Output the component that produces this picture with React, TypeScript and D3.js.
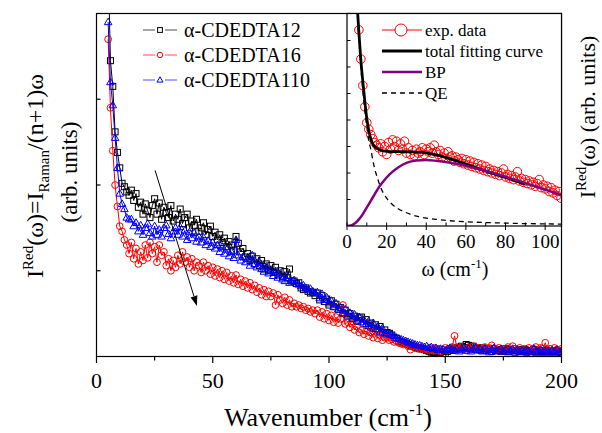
import React, { useRef, useEffect } from "react";
import * as d3 from "d3";

const W = 602;
const H = 433;

// ---- main panel data (wavenumber 5..200 cm-1, step 1) ----
const wavenumber = d3.range(5, 201, 1);

const cdedta12 = [
  4.6, 3.45, 3.15, 2.62, 2.38, 2.2, 2.02, 1.98, 1.92, 1.88,
  1.94, 1.82, 1.9, 1.74, 1.8, 1.66, 1.78, 1.7, 1.62, 1.76,
  1.84, 1.66, 1.79, 1.6, 1.74, 1.68, 1.62, 1.76, 1.58, 1.66,
  1.6, 1.72, 1.55, 1.62, 1.66, 1.5, 1.58, 1.53, 1.6, 1.46,
  1.5, 1.56, 1.42, 1.48, 1.52, 1.4, 1.45, 1.36, 1.42, 1.33,
  1.38, 1.28, 1.34, 1.3, 1.24, 1.4, 1.32, 1.22, 1.26, 1.16,
  1.2, 1.12, 1.17, 1.08, 1.14, 1.06, 1.12, 1.02, 1.08, 1.0,
  1.06, 0.98, 1.04, 0.95, 1.0, 0.93, 0.99, 0.92, 1.02, 0.88,
  0.88, 0.85, 0.86, 0.8, 0.78, 0.8, 0.76, 0.74, 0.75, 0.71,
  0.74, 0.66, 0.71, 0.64, 0.67, 0.6, 0.65, 0.58, 0.61, 0.55,
  0.57, 0.5, 0.54, 0.47, 0.5, 0.44, 0.47, 0.41, 0.45, 0.46,
  0.38, 0.43, 0.36, 0.39, 0.33, 0.37, 0.31, 0.35, 0.28, 0.31,
  0.28, 0.27, 0.25, 0.22, 0.21, 0.18, 0.17, 0.16, 0.15, 0.14,
  0.13, 0.12, 0.11, 0.1, 0.09, 0.09, 0.08, 0.07, 0.06, 0.05,
  0.05, 0.04, 0.04, 0.05, 0.03, 0.02, 0.06, 0.08, 0.07, 0.1,
  0.09, 0.11, 0.12, 0.1, 0.14, 0.13, 0.11, 0.12, 0.09, 0.1,
  0.08, 0.1, 0.07, 0.09, 0.08, 0.06, 0.09, 0.07, 0.08, 0.06,
  0.07, 0.09, 0.06, 0.08, 0.07, 0.05, 0.07, 0.06, 0.08, 0.06,
  0.05, 0.07, 0.06, 0.08, 0.05, 0.06, 0.07, 0.05, 0.06, 0.07,
  0.05, 0.06, 0.07, 0.05, 0.06, 0.05,
];

const cdedta16 = [
  3.7, 2.9, 2.4, 2.0, 1.75, 1.52, 1.46, 1.36, 1.3, 1.2,
  1.33, 1.14, 1.26, 1.08, 1.22, 1.12, 1.3, 1.15, 1.33, 1.2,
  1.28, 1.1, 1.3, 1.18, 1.22, 1.06, 1.14, 1.0, 1.12, 1.04,
  1.18, 1.08, 1.22, 1.1, 1.16, 1.04, 1.14, 1.0, 1.1, 1.06,
  0.98, 1.1, 1.0, 1.06, 0.96, 1.04, 0.94, 1.02, 0.92, 1.0,
  0.9, 0.98, 0.88, 0.94, 0.86, 0.95, 0.84, 0.9, 0.82, 0.88,
  0.8, 0.86, 0.78, 0.83, 0.75, 0.8, 0.72, 0.78, 0.7, 0.76,
  0.7, 0.74, 0.6, 0.72, 0.66, 0.62, 0.69, 0.6, 0.66, 0.58,
  0.62, 0.58, 0.6, 0.56, 0.58, 0.54, 0.56, 0.52, 0.54, 0.5,
  0.54, 0.46, 0.52, 0.44, 0.5, 0.42, 0.48, 0.4, 0.46, 0.39,
  0.44, 0.6, 0.38, 0.4, 0.34, 0.38, 0.31, 0.35, 0.28, 0.31,
  0.26, 0.3, 0.24, 0.28, 0.22, 0.3, 0.21, 0.25, 0.19, 0.22,
  0.22, 0.19, 0.2, 0.17, 0.18, 0.16, 0.15, 0.14, 0.15, 0.12,
  0.08, 0.12, 0.1, 0.11, 0.09, 0.1, 0.08, 0.09, 0.07, 0.08,
  0.1, 0.07, 0.09, 0.06, 0.08, 0.1, 0.07, 0.09, 0.11, 0.24,
  0.1, 0.08, 0.11, 0.09, 0.07, 0.1, 0.08, 0.12, 0.09, 0.1,
  0.07, 0.09, 0.11, 0.08, 0.1, 0.13, 0.09, 0.08, 0.1, 0.07,
  0.09, 0.08, 0.11, 0.07, 0.12, 0.09, 0.08, 0.1, 0.07, 0.09,
  0.08, 0.1, 0.07, 0.09, 0.11, 0.08, 0.1, 0.09, 0.16, 0.08,
  0.09, 0.07, 0.1, 0.08, 0.07, 0.09,
];

const cdedta110 = [
  3.9, 3.2, 2.93, 2.55, 2.2, 1.9, 1.78, 1.72, 1.62, 1.6,
  1.6, 1.52, 1.56, 1.46, 1.53, 1.42, 1.5, 1.55, 1.44, 1.4,
  1.52, 1.42, 1.48, 1.4, 1.5, 1.53, 1.43, 1.38, 1.46, 1.5,
  1.42, 1.51, 1.4, 1.47, 1.36, 1.45, 1.38, 1.44, 1.34, 1.4,
  1.33, 1.39, 1.3, 1.35, 1.28, 1.33, 1.26, 1.3, 1.22, 1.28,
  1.2, 1.25, 1.17, 1.22, 1.15, 1.36, 1.18, 1.12, 1.16, 1.1,
  1.14, 1.06, 1.18, 1.08, 1.04, 1.1, 1.02, 0.99, 1.05, 0.97,
  1.0, 0.94, 0.99, 0.92, 0.97, 0.9, 0.88, 0.94, 0.86, 0.88,
  0.89, 0.85, 0.84, 0.82, 0.83, 0.8, 0.78, 0.79, 0.76, 0.74,
  0.75, 0.68, 0.73, 0.66, 0.69, 0.62, 0.65, 0.58, 0.62, 0.55,
  0.57, 0.51, 0.55, 0.48, 0.51, 0.44, 0.49, 0.42, 0.46, 0.4,
  0.43, 0.38, 0.41, 0.34, 0.39, 0.32, 0.35, 0.29, 0.33, 0.27,
  0.27, 0.26, 0.25, 0.24, 0.22, 0.21, 0.2, 0.19, 0.18, 0.17,
  0.16, 0.15, 0.14, 0.13, 0.13, 0.12, 0.11, 0.12, 0.1, 0.11,
  0.09, 0.1, 0.08, 0.09, 0.08, 0.07, 0.09, 0.1, 0.08, 0.07,
  0.09, 0.06, 0.08, 0.1, 0.07, 0.09, 0.06, 0.08, 0.1, 0.07,
  0.08, 0.06, 0.09, 0.07, 0.05, 0.08, 0.1, 0.06, 0.07, 0.09,
  0.06, 0.08, 0.05, 0.07, 0.09, 0.06, 0.08, 0.05, 0.07, 0.06,
  0.08, 0.06, 0.05, 0.09, 0.07, 0.06, 0.08, 0.05, 0.07, 0.06,
  0.05, 0.07, 0.06, 0.08, 0.05, 0.06,
];

const seriesNames = ["\u03b1-CDEDTA12", "\u03b1-CDEDTA16", "\u03b1-CDEDTA110"];
const xTicks = [0, 50, 100, 150, 200];
const xMinorTicks = [25, 75, 125, 175];
const yTicks = [1, 2, 3];
const arrowFrom = [25.2, 2.17];
const arrowTo = [43.2, 0.59];

// ---- inset data ----
const insetOmega = d3.range(5, 109, 1);
const insetExp = [
  8.2, 7.4, 6.3, 5.3, 4.5, 3.9, 3.65, 3.45, 3.3, 3.15,
  3.05, 2.95, 3.1, 2.8, 3.0, 2.7, 3.15, 2.9, 3.25, 3.0,
  3.2, 2.85, 3.1, 2.9, 3.2, 2.75, 2.95, 2.7, 2.85, 2.65,
  2.9, 2.75, 2.8, 2.95, 2.7, 2.9, 2.8, 2.95, 2.75, 3.05,
  2.8, 2.7, 2.85, 2.6, 2.75, 2.55, 2.8, 2.6, 2.65, 2.45,
  2.6, 2.5, 2.4, 2.55, 2.35, 2.5, 2.3, 2.45, 2.25, 2.4,
  2.2, 2.35, 2.15, 2.3, 2.1, 2.25, 2.05, 2.15, 2.0, 2.1,
  1.95, 2.05, 1.9, 2.0, 2.15, 1.85, 1.95, 1.8, 1.9, 1.75,
  1.85, 2.05, 1.7, 1.8, 1.65, 1.75, 1.6, 1.7, 1.55, 1.65,
  1.5, 1.6, 1.75, 1.45, 1.55, 1.4, 1.5, 1.3, 1.45, 1.25,
  1.35, 1.15, 1.3, 1.05,
];

const totalOmega = [4, 5, 6, 7, 8, 9, 10, 11, 12, 13, 14, 15, 17, 20, 23, 26, 30, 35, 40, 45, 50, 55, 60, 65, 70, 75, 80, 85, 90];
const totalFit = [9.5, 8.5, 7.3, 6.25, 5.45, 4.7, 4.05, 3.6, 3.3, 3.1, 3.0, 2.94, 2.86, 2.82, 2.81, 2.81, 2.8, 2.79, 2.76, 2.68, 2.58, 2.47, 2.34, 2.2, 2.07, 1.95, 1.83, 1.7, 1.58];

const bpOmega = [0, 2, 4, 6, 8, 10, 12, 14, 16, 18, 20, 23, 26, 30, 35, 40, 45, 50, 55, 60, 65, 70, 75, 80, 85, 90, 95, 100, 105, 108];
const bpFit = [0, 0.02, 0.1, 0.25, 0.45, 0.7, 0.95, 1.2, 1.45, 1.65, 1.83, 2.05, 2.22, 2.38, 2.47, 2.49, 2.46, 2.41, 2.35, 2.27, 2.18, 2.08, 1.97, 1.86, 1.74, 1.62, 1.5, 1.37, 1.25, 1.17];

const qeOmega = [4, 5, 6, 7, 8, 9, 10, 11, 12, 13, 14, 15, 17, 20, 23, 26, 30, 35, 40, 45, 50, 55, 60, 70, 80, 90, 100, 108];
const qeFit = [9.5, 8.4, 7.1, 6.0, 5.1, 4.35, 3.75, 3.2, 2.9, 2.5, 2.15, 1.9, 1.45, 1.05, 0.8, 0.64, 0.5, 0.37, 0.3, 0.25, 0.21, 0.18, 0.16, 0.13, 0.11, 0.09, 0.08, 0.07];

const insetXTicks = [0, 20, 40, 60, 80, 100];
const insetXMinor = [10, 30, 50, 70, 90];
const insetYTicks = [1, 2, 3, 4, 5, 6, 7];
const insetLegend = ["exp. data", "total fitting curve", "BP", "QE"];

const App = () => {
  const ref = useRef<SVGSVGElement>(null);

  useEffect(() => {
    document.body.style.margin = "0";
    const svg = d3.select(ref.current);
    svg.selectAll("*").remove();

    const x = d3.scaleLinear().domain([0, 200]).range([96.5, 561.5]);
    const y = d3.scaleLinear().domain([0, 4]).range([356.5, 13.5]);

    const defs = svg.append("defs");
    defs.append("clipPath").attr("id", "mainClip")
      .append("rect").attr("x", 96.5).attr("y", 13.5).attr("width", 465).attr("height", 343);
    defs.append("clipPath").attr("id", "insetClip")
      .append("rect").attr("x", 347).attr("y", 13.5).attr("width", 214.5).attr("height", 212.5);

    svg.append("rect").attr("width", W).attr("height", H).attr("fill", "#fff");

    // series
    const colors = ["#000", "#ff0000", "#0000ff"];
    const allSeries = [cdedta12, cdedta16, cdedta110];
    const plot = svg.append("g").attr("clip-path", "url(#mainClip)");

    const drawMarker = (g: any, kind: number, cx: number, cy: number, color: string, s = 1) => {
      if (kind === 0) {
        g.append("rect").attr("x", cx - 3 * s).attr("y", cy - 3 * s).attr("width", 6 * s).attr("height", 6 * s)
          .attr("fill", "none").attr("stroke", color).attr("stroke-width", 1);
      } else if (kind === 1) {
        g.append("circle").attr("cx", cx).attr("cy", cy).attr("r", 3.4 * s)
          .attr("fill", "none").attr("stroke", color).attr("stroke-width", 1);
      } else {
        g.append("path")
          .attr("d", `M${cx},${cy - 4 * s}L${cx + 3.8 * s},${cy + 2.6 * s}L${cx - 3.8 * s},${cy + 2.6 * s}Z`)
          .attr("fill", "none").attr("stroke", color).attr("stroke-width", 1);
      }
    };

    allSeries.forEach((vals, k) => {
      const line = d3.line<number>().x((d, i) => x(wavenumber[i])).y((d) => y(d));
      plot.append("path").attr("d", line(vals)).attr("fill", "none")
        .attr("stroke", colors[k]).attr("stroke-width", 1);
      const mg = plot.append("g");
      vals.forEach((v, i) => drawMarker(mg, k, x(wavenumber[i]), y(v), colors[k]));
    });

    // arrow
    const ax0 = x(arrowFrom[0]), ay0 = y(arrowFrom[1]);
    const ax1 = x(arrowTo[0]), ay1 = y(arrowTo[1]);
    const ang = Math.atan2(ay1 - ay0, ax1 - ax0);
    const hl = 10, hw = 3.5;
    const bx = ax1 - hl * Math.cos(ang), by = ay1 - hl * Math.sin(ang);
    svg.append("line").attr("x1", ax0).attr("y1", ay0).attr("x2", bx).attr("y2", by)
      .attr("stroke", "#000").attr("stroke-width", 1);
    svg.append("path")
      .attr("d", `M${ax1},${ay1}L${bx + hw * Math.sin(ang)},${by - hw * Math.cos(ang)}L${bx - hw * Math.sin(ang)},${by + hw * Math.cos(ang)}Z`)
      .attr("fill", "#000");

    // main frame + ticks
    svg.append("rect").attr("x", 96.5).attr("y", 13.5).attr("width", 465).attr("height", 343)
      .attr("fill", "none").attr("stroke", "#000").attr("stroke-width", 1.2);

    xTicks.forEach((t) => {
      svg.append("line").attr("x1", x(t)).attr("x2", x(t)).attr("y1", 356.5).attr("y2", 363)
        .attr("stroke", "#000").attr("stroke-width", 1.2);
      svg.append("text").attr("x", x(t)).attr("y", 388).attr("text-anchor", "middle")
        .attr("font-size", 22).text(t);
    });
    xMinorTicks.forEach((t) => {
      svg.append("line").attr("x1", x(t)).attr("x2", x(t)).attr("y1", 356.5).attr("y2", 360.5)
        .attr("stroke", "#000").attr("stroke-width", 1.2);
    });
    yTicks.forEach((t) => {
      svg.append("line").attr("x1", 96.5).attr("x2", 100.5).attr("y1", y(t)).attr("y2", y(t))
        .attr("stroke", "#000").attr("stroke-width", 1.2);
    });

    // x title
    const xt = svg.append("text").attr("x", 328).attr("y", 426).attr("text-anchor", "middle")
      .attr("font-size", 26);
    xt.append("tspan").text("Wavenumber (cm");
    xt.append("tspan").attr("font-size", 17).attr("dy", -11).text("-1");
    xt.append("tspan").attr("dy", 11).text(")");

    // y title (two lines)
    const yt = svg.append("text").attr("transform", "translate(43,176) rotate(-90)")
      .attr("text-anchor", "middle").attr("font-size", 24);
    yt.append("tspan").text("I");
    yt.append("tspan").attr("font-size", 15).attr("dy", -10).text("Red");
    yt.append("tspan").attr("dy", 10).text("(\u03c9)=I");
    yt.append("tspan").attr("font-size", 15).attr("dy", 6).text("Raman");
    yt.append("tspan").attr("dy", -6).text("/(n+1)\u03c9");
    svg.append("text").attr("transform", "translate(77,172) rotate(-90)")
      .attr("text-anchor", "middle").attr("font-size", 23)
      .text("(arb. units)");

    // main legend
    [30, 55, 80].forEach((ly, k) => {
      svg.append("line").attr("x1", 143).attr("x2", 177).attr("y1", ly).attr("y2", ly)
        .attr("stroke", colors[k]).attr("stroke-width", 1).attr("stroke-opacity", 0.7);
      const lg = svg.append("g");
      lg.append("rect").attr("x", 155).attr("y", ly - 5).attr("width", 10).attr("height", 10).attr("fill", "#fff");
      drawMarker(lg, k, 160, ly, colors[k], 0.8);
      svg.append("text").attr("x", 184).attr("y", ly + 7).attr("font-size", 20)
        .text(seriesNames[k]);
    });

    // ---- inset ----
    const ix = d3.scaleLinear().domain([0, 108]).range([347, 561]);
    const iy = d3.scaleLinear().domain([0, 8]).range([226, 14]);
    svg.append("rect").attr("x", 347).attr("y", 13.5).attr("width", 214.5).attr("height", 212.5).attr("fill", "#fff");
    const ig = svg.append("g").attr("clip-path", "url(#insetClip)");

    const expG = ig.append("g");
    insetExp.forEach((v, i) => {
      expG.append("circle").attr("cx", ix(insetOmega[i])).attr("cy", iy(v)).attr("r", 4.3)
        .attr("fill", "none").attr("stroke", "#ff0000").attr("stroke-width", 1);
    });

    const curve = (xs: number[], ys: number[]) =>
      d3.line<number>().x((d, i) => ix(xs[i])).y((d) => iy(d)).curve(d3.curveMonotoneX)(ys);

    ig.append("path").attr("d", curve(qeOmega, qeFit)).attr("fill", "none").attr("stroke", "#000")
      .attr("stroke-width", 1.3).attr("stroke-dasharray", "5,4");
    ig.append("path").attr("d", curve(totalOmega, totalFit)).attr("fill", "none").attr("stroke", "#000")
      .attr("stroke-width", 2.8);
    ig.append("path").attr("d", curve(bpOmega, bpFit)).attr("fill", "none").attr("stroke", "#800080")
      .attr("stroke-width", 2.5);

    svg.append("rect").attr("x", 347).attr("y", 13.5).attr("width", 214.5).attr("height", 212.5)
      .attr("fill", "none").attr("stroke", "#000").attr("stroke-width", 1.2);

    insetXTicks.forEach((t) => {
      svg.append("line").attr("x1", ix(t)).attr("x2", ix(t)).attr("y1", 222.5).attr("y2", 230)
        .attr("stroke", "#000").attr("stroke-width", 1);
      svg.append("text").attr("x", ix(t)).attr("y", 248).attr("text-anchor", "middle")
        .attr("font-size", 19).text(t);
    });
    insetXMinor.forEach((t) => {
      svg.append("line").attr("x1", ix(t)).attr("x2", ix(t)).attr("y1", 222.5).attr("y2", 226)
        .attr("stroke", "#000").attr("stroke-width", 1);
    });
    insetYTicks.forEach((t) => {
      svg.append("line").attr("x1", 347).attr("x2", 350.5).attr("y1", iy(t)).attr("y2", iy(t))
        .attr("stroke", "#000").attr("stroke-width", 1);
    });

    const it = svg.append("text").attr("x", 455).attr("y", 276).attr("text-anchor", "middle")
      .attr("font-size", 20);
    it.append("tspan").text("\u03c9 (cm");
    it.append("tspan").attr("font-size", 13).attr("dy", -8).text("-1");
    it.append("tspan").attr("dy", 8).text(")");

    const rt = svg.append("text").attr("transform", "translate(595,117) rotate(-90)")
      .attr("text-anchor", "middle").attr("font-size", 22);
    rt.append("tspan").text("I");
    rt.append("tspan").attr("font-size", 15).attr("dy", -9).text("Red");
    rt.append("tspan").attr("dy", 9).text("(\u03c9) (arb. units)");

    // inset legend
    const ilY = [30, 51, 72, 93];
    svg.append("line").attr("x1", 382).attr("x2", 422).attr("y1", ilY[0]).attr("y2", ilY[0])
      .attr("stroke", "#ff0000").attr("stroke-width", 1);
    svg.append("circle").attr("cx", 401).attr("cy", ilY[0]).attr("r", 6)
      .attr("fill", "#fff").attr("stroke", "#ff0000").attr("stroke-width", 1);
    svg.append("line").attr("x1", 382).attr("x2", 422).attr("y1", ilY[1]).attr("y2", ilY[1])
      .attr("stroke", "#000").attr("stroke-width", 2.8);
    svg.append("line").attr("x1", 382).attr("x2", 422).attr("y1", ilY[2]).attr("y2", ilY[2])
      .attr("stroke", "#800080").attr("stroke-width", 2.5);
    svg.append("line").attr("x1", 382).attr("x2", 422).attr("y1", ilY[3]).attr("y2", ilY[3])
      .attr("stroke", "#000").attr("stroke-width", 1.3).attr("stroke-dasharray", "5,4");
    insetLegend.forEach((name, k) => {
      svg.append("text").attr("x", 425).attr("y", ilY[k] + 6)
        .attr("font-size", 17).text(name);
    });
  }, []);

  return (
    <svg ref={ref} width={W} height={H}
      style={{ display: "block", fontFamily: "Liberation Serif" }} />
  );
};

export default App;
